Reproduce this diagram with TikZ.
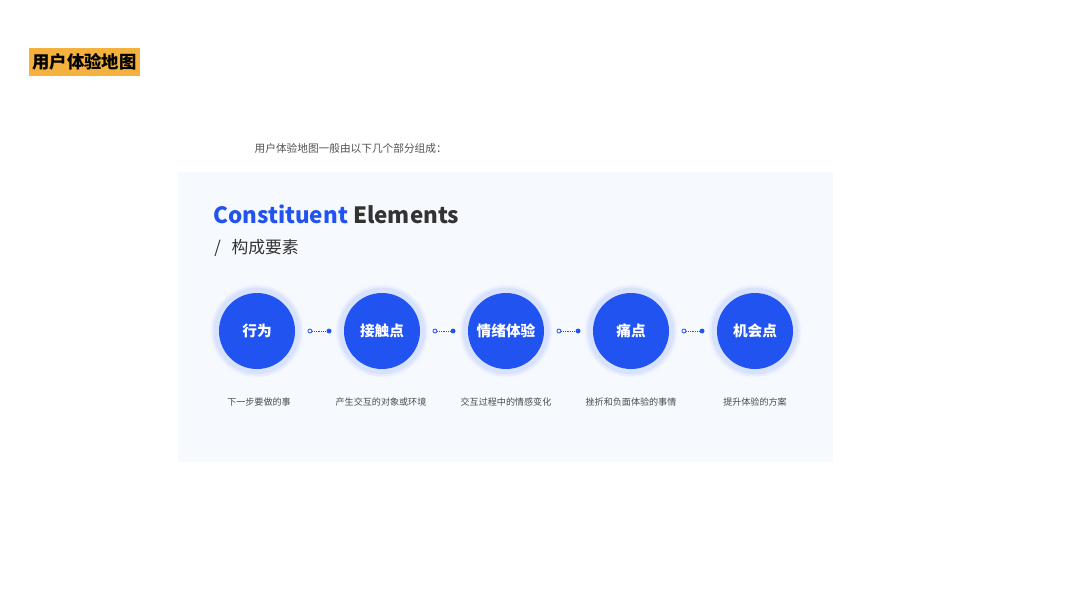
\documentclass[tikz,border=0pt]{standalone}
\usepackage{fontspec}
\setmainfont{Noto Sans CJK SC}
\usetikzlibrary{arrows.meta}

\definecolor{tagorange}{HTML}{F4B13E}
\definecolor{mainblue}{HTML}{2153F0}
\definecolor{haloblue}{HTML}{D8E2FD}
\definecolor{panelbg}{HTML}{F6F9FE}
\definecolor{darktext}{HTML}{333333}
\definecolor{greytext}{HTML}{4A4A4A}

\tikzset{
  stage/.style={circle, minimum size=57pt, inner sep=0pt, fill=mainblue,
    text=white, font=\bfseries\fontsize{11pt}{11pt}\selectfont,
    preaction={draw=haloblue!25, line width=15pt},
    preaction={draw=haloblue!60, line width=11.5pt},
    preaction={draw=haloblue, line width=8pt}},
  link/.style={mainblue, line width=0.6pt, dash pattern=on 0.6pt off 0.8pt,
    shorten <=9.2pt, shorten >=9.2pt,
    {Circle[open, length=3.6pt, width=3.6pt, line width=0.6pt]}-{Circle[length=3.6pt, width=3.6pt]}},
  note/.style={text=greytext, font=\fontsize{6.8pt}{7pt}\selectfont}
}

\begin{document}
\begin{tikzpicture}[x=0.75pt, y=-0.75pt]
  \useasboundingbox (0,0) rectangle (1067,600);
  \fill[white] (0,0) rectangle (1067,600);

  % heading tag
  \node[fill=tagorange, minimum width=83.5pt, minimum height=21pt, inner sep=0pt,
    font=\bfseries\fontsize{13pt}{13pt}\selectfont] (tag) at (84.5,62) {用户体验地图};

  \node[anchor=west, text=darktext!85, font=\fontsize{8pt}{8pt}\selectfont] (intro)
    at (250,148) {用户体验地图一般由以下几个部分组成：};

  % panel
  \fill[panelbg] (178,172) rectangle (833,462);

  \node[anchor=base west, inner sep=0pt, font=\bfseries\fontsize{16.8pt}{17pt}\selectfont] (head)
    at (213,223) {\textcolor{mainblue}{Constituent} \textcolor{darktext}{Elements}};
  \node[anchor=base west, inner sep=0pt, text=darktext, font=\fontsize{12.6pt}{13pt}\selectfont] (sub)
    at (214,253) {/\hspace{8pt}构成要素};

  % stages
  \node[stage] (s1) at (257,331) {行为};
  \node[stage] (s2) at (382,331) {接触点};
  \node[stage] (s3) at (506,331) {情绪体验};
  \node[stage] (s4) at (631,331) {痛点};
  \node[stage] (s5) at (755,331) {机会点};

  \draw[link] (s1) -- (s2);
  \draw[link] (s2) -- (s3);
  \draw[link] (s3) -- (s4);
  \draw[link] (s4) -- (s5);

  \node[note] (n1) at (259,402) {下一步要做的事};
  \node[note] (n2) at (381,402) {产生交互的对象或环境};
  \node[note] (n3) at (506,402) {交互过程中的情感变化};
  \node[note] (n4) at (631,402) {挫折和负面体验的事情};
  \node[note] (n5) at (755,402) {提升体验的方案};
\end{tikzpicture}
\end{document}
